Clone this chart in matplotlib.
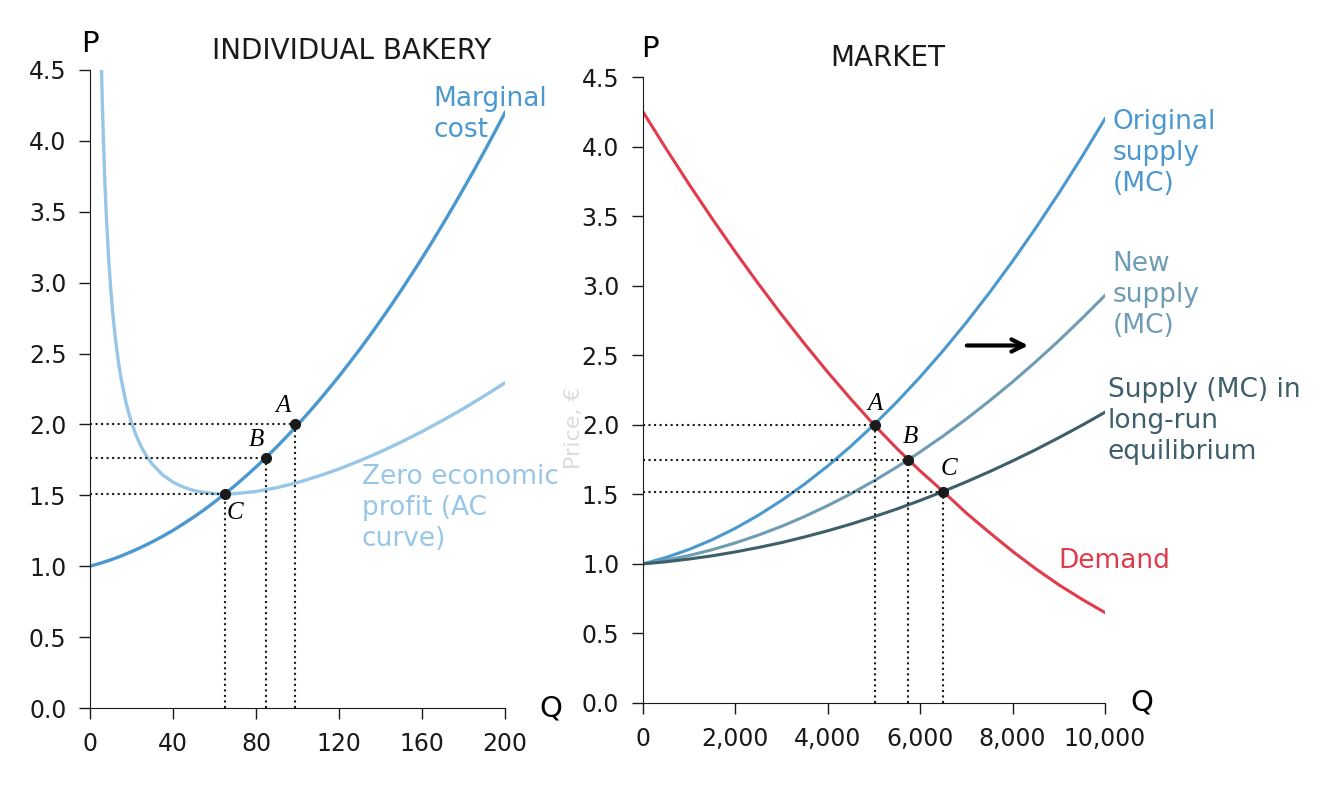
import matplotlib.pyplot as plt
from matplotlib.ticker import FuncFormatter

plt.rcParams['font.family'] = ['DejaVu Sans']

# ---- individual bakery data ----
q_firm = list(range(0, 205, 5))
mc_firm = [1.000, 1.021, 1.045, 1.072, 1.103, 1.136, 1.172, 1.211, 1.253, 1.299, 1.347,
           1.398, 1.453, 1.510, 1.570, 1.634, 1.700, 1.770, 1.842, 1.918, 1.996, 2.078,
           2.162, 2.250, 2.340, 2.434, 2.530, 2.630, 2.733, 2.838, 2.947, 3.059, 3.173,
           3.291, 3.412, 3.536, 3.663, 3.792, 3.925, 4.061, 4.200]
q_ac = [5.5, 6, 6.5, 7, 7.5, 8, 9, 10, 11, 12, 13, 14, 15, 17.5, 20, 22.5, 25, 27.5, 30,
        35, 40, 45, 50, 55, 60, 65, 70, 80, 90, 100, 110, 120, 130, 140, 150, 160, 170,
        180, 190, 200]
ac_firm = [4.520, 4.229, 3.983, 3.772, 3.589, 3.430, 3.163, 2.952, 2.779, 2.634, 2.514,
           2.410, 2.321, 2.143, 2.012, 1.912, 1.834, 1.771, 1.720, 1.644, 1.593, 1.558,
           1.534, 1.520, 1.512, 1.510, 1.512, 1.527, 1.554, 1.590, 1.635, 1.686, 1.744,
           1.807, 1.876, 1.950, 2.029, 2.112, 2.201, 2.294]
firm_pts = ['A', 'B', 'C']
firm_pts_q = [99, 85, 65]
firm_pts_p = [2.00, 1.76, 1.51]

# ---- market data ----
q_mkt = list(range(0, 10500, 500))
demand = [4.250, 3.985, 3.728, 3.481, 3.242, 3.013, 2.792, 2.581, 2.378, 2.185, 2.000,
          1.828, 1.668, 1.520, 1.365, 1.225, 1.090, 0.965, 0.850, 0.746, 0.650]
supply_orig = [1.000, 1.046, 1.104, 1.174, 1.256, 1.350, 1.456, 1.574, 1.704, 1.846, 2.000,
               2.166, 2.344, 2.534, 2.736, 2.950, 3.176, 3.414, 3.664, 3.926, 4.200]
supply_new = [1.000, 1.027, 1.060, 1.102, 1.151, 1.207, 1.270, 1.341, 1.419, 1.504, 1.597,
              1.697, 1.805, 1.920, 2.042, 2.172, 2.308, 2.453, 2.604, 2.764, 2.930]
supply_lr = [1.000, 1.015, 1.035, 1.058, 1.086, 1.118, 1.153, 1.194, 1.238, 1.286, 1.339,
             1.395, 1.456, 1.521, 1.590, 1.663, 1.740, 1.821, 1.907, 1.996, 2.090]
mkt_pts = ['A', 'B', 'C']
mkt_pts_q = [5020, 5740, 6500]
mkt_pts_p = [2.00, 1.75, 1.52]

c_mc = '#4a98cf'
c_ac = '#98c6e6'
c_dem = '#e03b4b'
c_new = '#6e9db3'
c_lr = '#3d5e6b'
c_ink = '#1a1a1a'

fig = plt.figure(figsize=(13.2, 8.11), dpi=100)
ax1 = fig.add_axes([0.0682, 0.127, 0.3144, 0.7867])
ax2 = fig.add_axes([0.4871, 0.1332, 0.35, 0.7718])

for ax in (ax1, ax2):
    ax.spines['top'].set_visible(False)
    ax.spines['right'].set_visible(False)
    ax.spines['left'].set_color(c_ink)
    ax.spines['bottom'].set_color(c_ink)
    ax.tick_params(direction='out', length=8, width=1, colors=c_ink, labelsize=17, pad=9)
    ax.set_ylim(0, 4.5)
    ax.set_yticks([0, 0.5, 1, 1.5, 2, 2.5, 3, 3.5, 4, 4.5])
    ax.yaxis.set_major_formatter(FuncFormatter(lambda v, p: f'{v:.1f}'))

lab = dict(fontsize=19, ha='left', va='top', linespacing=1.25)
pt_lab = dict(family='Liberation Serif', style='italic', fontsize=18, ha='center')

# ---- left panel ----
ax1.set_xlim(0, 200)
ax1.set_xticks([0, 40, 80, 120, 160, 200])
ax1.plot(q_ac, ac_firm, color=c_ac, lw=2.4)
ax1.plot(q_firm, mc_firm, color=c_mc, lw=2.4)
for name, q, p in zip(firm_pts, firm_pts_q, firm_pts_p):
    ax1.plot([0, q], [p, p], color=c_ink, ls=':', lw=1.5)
    ax1.plot([q, q], [0, p], color=c_ink, ls=':', lw=1.5)
    ax1.plot(q, p, 'o', color=c_ink, ms=7, zorder=5)
ax1.text(93, 2.05, 'A', va='bottom', **pt_lab)
ax1.text(80, 1.81, 'B', va='bottom', **pt_lab)
ax1.text(70, 1.45, 'C', va='top', **pt_lab)
ax1.text(165.5, 4.39, 'Marginal\ncost', color=c_mc, **lab)
ax1.text(131, 1.72, 'Zero economic\nprofit (AC\ncurve)', color=c_ac, **lab)
ax1.text(0.0, 1.04, 'P', transform=ax1.transAxes, fontsize=21, ha='center', va='center')
ax1.text(1.11, 0.0, 'Q', transform=ax1.transAxes, fontsize=21, ha='center', va='center')
ax1.text(0.63, 1.03, 'INDIVIDUAL BAKERY', transform=ax1.transAxes, fontsize=20, ha='center',
         va='center', color=c_ink)

# ---- right panel ----
ax2.set_xlim(0, 10000)
ax2.set_xticks([0, 2000, 4000, 6000, 8000, 10000])
ax2.xaxis.set_major_formatter(FuncFormatter(lambda v, p: f'{int(v):,}'))
ax2.plot(q_mkt, demand, color=c_dem, lw=2.2)
ax2.plot(q_mkt, supply_orig, color=c_mc, lw=2.2)
ax2.plot(q_mkt, supply_new, color=c_new, lw=2.2)
ax2.plot(q_mkt, supply_lr, color=c_lr, lw=2.2)
for name, q, p in zip(mkt_pts, mkt_pts_q, mkt_pts_p):
    ax2.plot([0, q], [p, p], color=c_ink, ls=':', lw=1.5)
    ax2.plot([q, q], [0, p], color=c_ink, ls=':', lw=1.5)
    ax2.plot(q, p, 'o', color=c_ink, ms=7, zorder=5)
ax2.text(5020, 2.07, 'A', va='bottom', **pt_lab)
ax2.text(5780, 1.83, 'B', va='bottom', **pt_lab)
ax2.text(6620, 1.60, 'C', va='bottom', **pt_lab)
ax2.annotate('', xy=(8400, 2.57), xytext=(6950, 2.57),
             arrowprops=dict(arrowstyle='->', color='black', lw=3, mutation_scale=22))
ax2.text(10170, 4.27, 'Original\nsupply\n(MC)', color=c_mc, **lab)
ax2.text(10170, 3.25, 'New\nsupply\n(MC)', color=c_new, **lab)
ax2.text(10060, 2.34, 'Supply (MC) in\nlong-run\nequilibrium', color=c_lr, **lab)
ax2.text(8990, 1.02, 'Demand', color=c_dem, fontsize=19, ha='left', va='center')
ax2.text(-0.15, 0.44, 'Price, €', transform=ax2.transAxes, fontsize=16, ha='center',
         va='center', rotation=90, color='#dcdcdc')
ax2.text(0.015, 1.045, 'P', transform=ax2.transAxes, fontsize=21, ha='center', va='center')
ax2.text(1.08, 0.0, 'Q', transform=ax2.transAxes, fontsize=21, ha='center', va='center')
ax2.text(0.53, 1.03, 'MARKET', transform=ax2.transAxes, fontsize=20, ha='center', va='center',
         color=c_ink)

fig.savefig('out.png', dpi=100)
